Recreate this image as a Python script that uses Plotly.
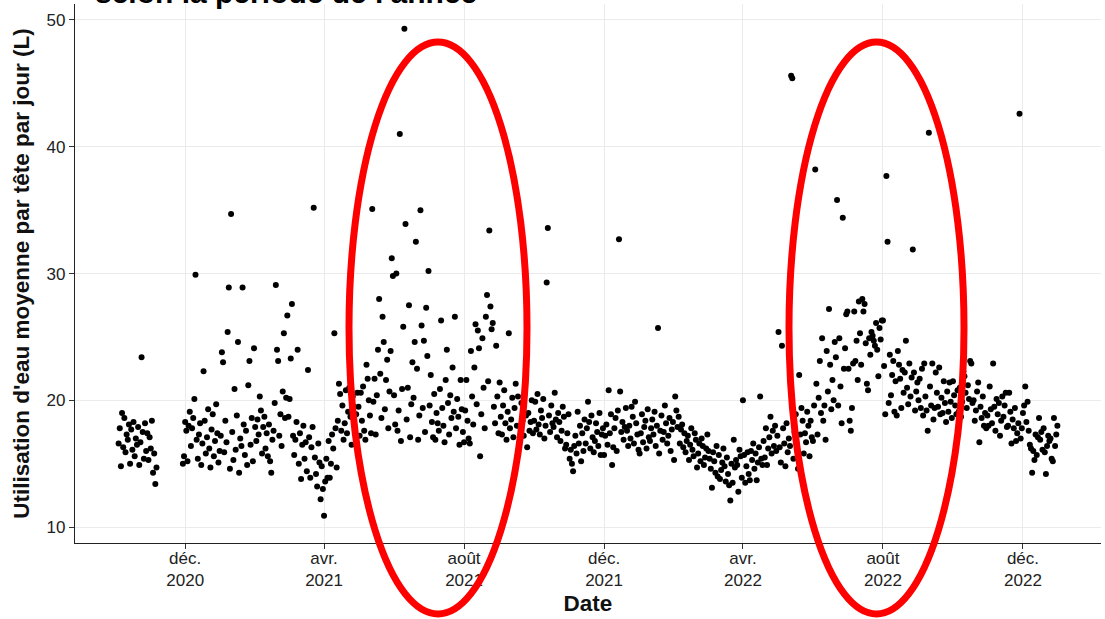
import pandas as pd
import plotly.graph_objects as go

# ---- data: daily average water use per person (L) ----
v_2020_10 = [16.6, 17.8, 14.8, 19.0, 16.3, 18.6, 15.9, 17.3, 16.9, 18.1, 15.0, 17.7, 16.1, 18.3, 15.6, 17.0, 16.5, 17.9, 14.9, 16.7, 23.4, 17.5, 15.4, 18.2, 16.0, 17.4, 15.3, 17.1]
v_2020_11a = [16.2, 18.4, 14.3, 15.8, 13.4, 14.7]
v_2020_11b = [15.0, 15.6]
v_2020_12 = [18.3, 17.6, 15.2, 18.0, 19.1, 16.4, 17.8, 18.6, 20.1, 29.9, 16.9, 15.4, 17.3, 18.2, 14.9, 16.6, 22.3, 18.4, 15.8, 17.1, 19.3, 16.2, 14.7, 17.7, 18.9, 15.6, 16.8, 19.7, 17.4, 15.1, 16.0]
v_2021_01 = [17.2, 23.8, 23.0, 15.9, 18.4, 16.7, 25.4, 28.9, 14.6, 34.7, 17.5, 15.3, 20.9, 16.1, 18.8, 24.6, 14.3, 17.0, 16.4, 28.9, 18.1, 15.7, 17.6, 14.9, 21.2, 23.1, 16.5, 18.6, 15.2, 24.1, 17.9]
v_2021_02 = [16.8, 18.5, 17.3, 20.3, 19.2, 15.8, 17.9, 18.7, 16.2, 17.4, 15.6, 18.1, 15.2, 14.3, 16.9, 17.6, 19.8, 29.1, 24.0, 23.1, 17.2, 18.9, 16.4, 20.7, 25.3, 18.6, 20.2, 26.7]
v_2021_03 = [18.7, 20.1, 23.3, 27.6, 17.2, 15.7, 16.9, 18.3, 24.0, 15.0, 17.4, 13.8, 16.5, 18.0, 15.4, 16.7, 14.4, 22.4, 17.1, 13.9, 16.3, 17.9, 35.2, 15.5, 14.2, 13.2, 16.6, 15.1, 12.2, 14.8, 13.0]
v_2021_04 = [10.9, 13.6, 15.4, 13.9, 16.8, 13.9, 15.0, 17.3, 16.2, 25.3, 17.8, 14.7, 18.4, 21.3, 20.5, 17.6, 19.6, 16.9, 18.2, 20.8, 17.4, 19.1, 21.0, 18.7, 16.5, 20.3, 19.5, 17.9, 18.9, 20.6]
v_2021_05 = [19.5, 17.2, 20.6, 18.4, 21.1, 17.6, 16.9, 22.8, 21.7, 20.0, 18.8, 17.4, 35.1, 19.9, 21.7, 17.3, 20.4, 24.0, 28.0, 22.1, 18.6, 26.6, 24.6, 19.3, 21.6, 23.2, 17.8, 20.7, 23.9, 31.2, 29.8]
v_2021_06 = [20.4, 18.1, 30.0, 17.6, 19.2, 41.0, 16.8, 20.9, 25.8, 49.3, 33.9, 18.5, 21.0, 27.5, 17.1, 19.7, 23.0, 20.2, 24.6, 32.5, 22.5, 16.9, 18.8, 35.0, 25.9, 19.4, 24.7, 17.5, 27.3, 23.5]
v_2021_07 = [30.2, 19.6, 22.0, 18.3, 17.1, 20.5, 16.9, 19.0, 18.2, 17.6, 20.9, 26.3, 19.4, 18.0, 16.7, 21.6, 24.0, 19.8, 17.3, 20.4, 18.6, 22.6, 19.1, 26.6, 17.8, 20.1, 18.7, 16.5, 21.6, 19.3, 17.5]
v_2021_08 = [16.7, 19.2, 21.6, 18.4, 17.0, 16.6, 23.9, 20.3, 18.1, 22.6, 26.0, 19.7, 25.5, 24.1, 15.6, 18.9, 24.9, 21.0, 17.8, 26.6, 28.3, 21.5, 33.4, 27.4, 25.6, 26.1, 19.5, 18.2, 24.3, 20.3, 17.4]
v_2021_09 = [21.4, 18.7, 17.3, 19.6, 20.8, 18.2, 16.9, 19.1, 25.3, 17.8, 18.5, 20.2, 17.1, 19.4, 21.3, 18.0, 20.3, 16.6, 17.9, 19.8, 18.4, 17.2, 20.6, 18.8, 16.3, 19.0, 17.6, 18.3, 20.0, 17.4]
v_2021_10 = [18.4, 19.9, 17.7, 20.5, 18.1, 17.3, 19.2, 18.6, 20.1, 17.0, 18.0, 29.3, 33.6, 18.8, 17.5, 19.6, 18.2, 17.9, 20.6, 18.5, 17.1, 19.0, 18.3, 16.8, 17.6, 19.5, 18.7, 16.2, 16.5, 17.4, 18.9]
v_2021_11 = [15.4, 16.1, 15.0, 14.4, 16.4, 17.2, 15.8, 19.1, 16.6, 18.0, 15.2, 17.4, 16.0, 18.5, 16.6, 17.8, 19.9, 18.3, 16.2, 18.8, 17.1, 15.9, 16.8, 18.2, 17.5, 16.4, 19.0, 15.7, 17.3, 17.8]
v_2021_12 = [15.7, 17.2, 18.1, 16.5, 20.8, 17.4, 18.9, 14.9, 16.3, 17.8, 18.6, 16.0, 19.2, 32.7, 20.7, 17.5, 18.3, 16.9, 17.9, 19.4, 17.6, 16.4, 18.0, 17.0, 19.5, 18.7, 16.6, 19.9, 18.2, 17.3, 16.1]
v_2022_01 = [15.8, 17.4, 18.9, 16.7, 17.9, 18.4, 16.2, 19.3, 17.1, 16.8, 17.8, 18.5, 17.3, 19.1, 16.4, 18.0, 25.7, 15.8, 17.6, 18.8, 16.9, 17.5, 19.6, 18.2, 16.6, 17.2, 18.6, 16.0, 17.7, 18.3, 15.3]
v_2022_02 = [20.3, 19.2, 17.9, 18.7, 16.6, 17.7, 18.1, 16.3, 17.4, 15.9, 16.8, 17.2, 15.3, 16.5, 17.8, 16.1, 15.6, 17.4, 16.9, 14.7, 15.8, 16.6, 15.2, 17.0, 16.4, 14.9, 15.5, 16.2]
v_2022_03 = [17.3, 16.0, 15.4, 14.6, 13.1, 15.9, 15.2, 14.3, 16.4, 14.0, 15.7, 13.8, 14.5, 15.1, 16.2, 14.8, 13.6, 15.5, 14.2, 13.3, 12.1, 15.0, 13.5, 16.9, 14.7, 15.3, 14.9, 12.8, 16.1, 15.6, 13.9]
v_2022_04 = [20.0, 15.7, 13.5, 14.8, 15.9, 14.2, 13.7, 16.0, 15.3, 16.6, 14.6, 15.8, 13.7, 15.1, 16.3, 20.3, 15.4, 14.9, 16.8, 15.5, 17.8, 14.9, 16.2, 17.1, 18.7, 15.8, 17.6, 16.4, 18.0, 16.0]
v_2022_05 = [17.2, 25.4, 16.3, 15.1, 24.3, 17.8, 16.6, 14.8, 18.2, 15.9, 17.0, 16.4, 45.6, 45.4, 15.4, 17.5, 18.9, 16.1, 14.6, 22.0, 17.3, 19.4, 18.4, 15.8, 17.4, 16.7, 19.1, 18.0, 15.6, 18.4, 17.1]
v_2022_06 = [16.8, 19.6, 38.2, 21.3, 17.3, 20.2, 23.1, 19.0, 24.9, 18.4, 19.6, 16.9, 23.9, 20.7, 27.2, 22.8, 19.3, 21.6, 20.0, 24.6, 23.4, 35.8, 19.6, 24.9, 21.1, 18.2, 34.4, 22.5, 24.1, 26.8]
v_2022_07 = [27.0, 22.5, 18.4, 17.6, 19.4, 22.9, 27.0, 23.1, 24.7, 21.6, 27.8, 25.3, 22.8, 28.0, 27.0, 27.6, 24.5, 21.3, 20.8, 24.9, 23.6, 25.4, 25.1, 24.7, 24.3, 26.1, 24.0, 21.9, 25.7, 24.8, 26.3]
v_2022_08 = [26.3, 22.7, 18.9, 37.7, 32.5, 19.8, 23.6, 20.4, 22.0, 23.1, 19.1, 21.5, 18.8, 23.9, 22.8, 21.7, 19.4, 22.4, 20.6, 22.2, 24.7, 21.0, 19.7, 22.9, 20.3, 21.8, 31.9, 22.2, 19.2, 20.7, 21.4]
v_2022_09 = [20.0, 21.7, 19.4, 22.5, 18.8, 22.9, 20.3, 19.2, 17.6, 41.1, 21.1, 19.6, 22.9, 18.5, 19.4, 22.2, 20.6, 19.5, 22.6, 18.9, 20.2, 19.0, 21.5, 19.8, 18.3, 20.7, 19.1, 21.4, 19.9, 18.6]
v_2022_10 = [21.5, 20.4, 19.6, 18.9, 20.8, 19.1, 21.0, 18.7, 19.9, 22.3, 21.9, 20.6, 19.4, 21.2, 20.1, 23.1, 22.9, 19.8, 20.0, 18.4, 19.2, 20.7, 21.4, 16.7, 19.5, 18.6, 20.3, 18.0, 19.0, 17.8, 18.8]
v_2022_11 = [18.0, 21.1, 19.3, 18.2, 22.9, 19.5, 17.6, 20.1, 18.9, 19.8, 17.2, 18.4, 20.3, 18.7, 19.6, 20.6, 17.9, 18.0, 20.6, 19.1, 16.6, 18.5, 17.8, 19.4, 16.8, 17.4, 18.2, 42.6, 17.0, 17.8]
v_2022_12 = [19.0, 19.6, 21.1, 18.3, 19.9, 17.6, 16.5, 16.2, 14.3, 16.0, 15.3, 17.3, 15.7, 17.1, 18.6, 16.9, 17.5, 16.1, 17.8, 15.9, 14.2, 16.4, 17.2, 16.8, 17.0, 15.4, 15.2, 18.6, 16.4, 17.3, 18.0]

# first day of each run of consecutive daily values
segments = [
    ("2020-10-04", v_2020_10), ("2020-11-01", v_2020_11a), ("2020-11-29", v_2020_11b),
    ("2020-12-01", v_2020_12), ("2021-01-01", v_2021_01), ("2021-02-01", v_2021_02),
    ("2021-03-01", v_2021_03), ("2021-04-01", v_2021_04), ("2021-05-01", v_2021_05),
    ("2021-06-01", v_2021_06), ("2021-07-01", v_2021_07), ("2021-08-01", v_2021_08),
    ("2021-09-01", v_2021_09), ("2021-10-01", v_2021_10), ("2021-11-01", v_2021_11),
    ("2021-12-01", v_2021_12), ("2022-01-01", v_2022_01), ("2022-02-01", v_2022_02),
    ("2022-03-01", v_2022_03), ("2022-04-01", v_2022_04), ("2022-05-01", v_2022_05),
    ("2022-06-01", v_2022_06), ("2022-07-01", v_2022_07), ("2022-08-01", v_2022_08),
    ("2022-09-01", v_2022_09), ("2022-10-01", v_2022_10), ("2022-11-01", v_2022_11),
    ("2022-12-01", v_2022_12),
]

tick_dates = ["2020-12-01", "2021-04-01", "2021-08-01", "2021-12-01", "2022-04-01", "2022-08-01", "2022-12-01"]
tick_labels = ["déc.<br>2020", "avr.<br>2021", "août<br>2021", "déc.<br>2021", "avr.<br>2022", "août<br>2022", "déc.<br>2022"]
y_ticks = [10, 20, 30, 40, 50]

dates, values = [], []
for start, vals in segments:
    dates.extend(pd.date_range(start, periods=len(vals), freq="D"))
    values.extend(vals)

fig = go.Figure()
fig.add_trace(go.Scatter(
    x=dates, y=values, mode="markers",
    marker=dict(color="black", size=6, line=dict(width=0)),
    hoverinfo="x+y", showlegend=False,
))

W, H = 1105, 619
L, R, T, B = 75, 4, 4, 76
pw, ph = W - L - R, H - T - B

def px_x(p):
    return (p - L) / pw

def px_y(p):
    return (H - B - p) / ph

red = "#FF0000"
shapes = []
for x0, x1 in [(349, 527), (789, 964)]:
    shapes.append(dict(type="circle", xref="paper", yref="paper",
                       x0=px_x(x0), x1=px_x(x1), y0=px_y(614), y1=px_y(42),
                       line=dict(color=red, width=7), layer="above"))

font_family = "Liberation Sans, Arial, sans-serif"

fig.update_layout(
    width=W, height=H, autosize=False,
    margin=dict(l=L, r=R, t=T, b=B, autoexpand=False),
    paper_bgcolor="white", plot_bgcolor="white",
    font=dict(family=font_family, color="#222222"),
    shapes=shapes,
    annotations=[dict(
        text="<b>selon la période de l'année</b>", xref="paper", yref="paper",
        x=px_x(93), y=px_y(11), xanchor="left", yanchor="bottom",
        showarrow=False, font=dict(size=30, color="black", family=font_family),
    )],
)

fig.update_xaxes(
    type="date", range=["2020-08-27", "2023-02-07"], automargin=False,
    tickvals=tick_dates, ticktext=tick_labels,
    tickfont=dict(size=17, color="#222222"), ticklabelstandoff=-6,
    ticks="outside", ticklen=5, tickwidth=1.2, tickcolor="#333333",
    showgrid=True, gridcolor="#EBEBEB", gridwidth=1.3,
    showline=True, linecolor="#222222", linewidth=1.4,
    zeroline=False,
    title=dict(text="<b>Date</b>", font=dict(size=22.5, color="#111111"), standoff=6),
)
fig.update_yaxes(
    range=[8.75, 51.26], tickvals=y_ticks, automargin=False,
    tickfont=dict(size=17, color="#222222"),
    ticks="outside", ticklen=5, tickwidth=1.2, tickcolor="#333333",
    showgrid=True, gridcolor="#EBEBEB", gridwidth=1.3,
    showline=True, linecolor="#222222", linewidth=1.4,
    zeroline=False,
    title=dict(text="<b>Utilisation d'eau moyenne par tête par jour (L)</b>",
               font=dict(size=22.5, color="#111111"), standoff=10),
)

fig.write_html("out.html", config={"displayModeBar": False},
               post_script="document.body.style.margin='0';")
